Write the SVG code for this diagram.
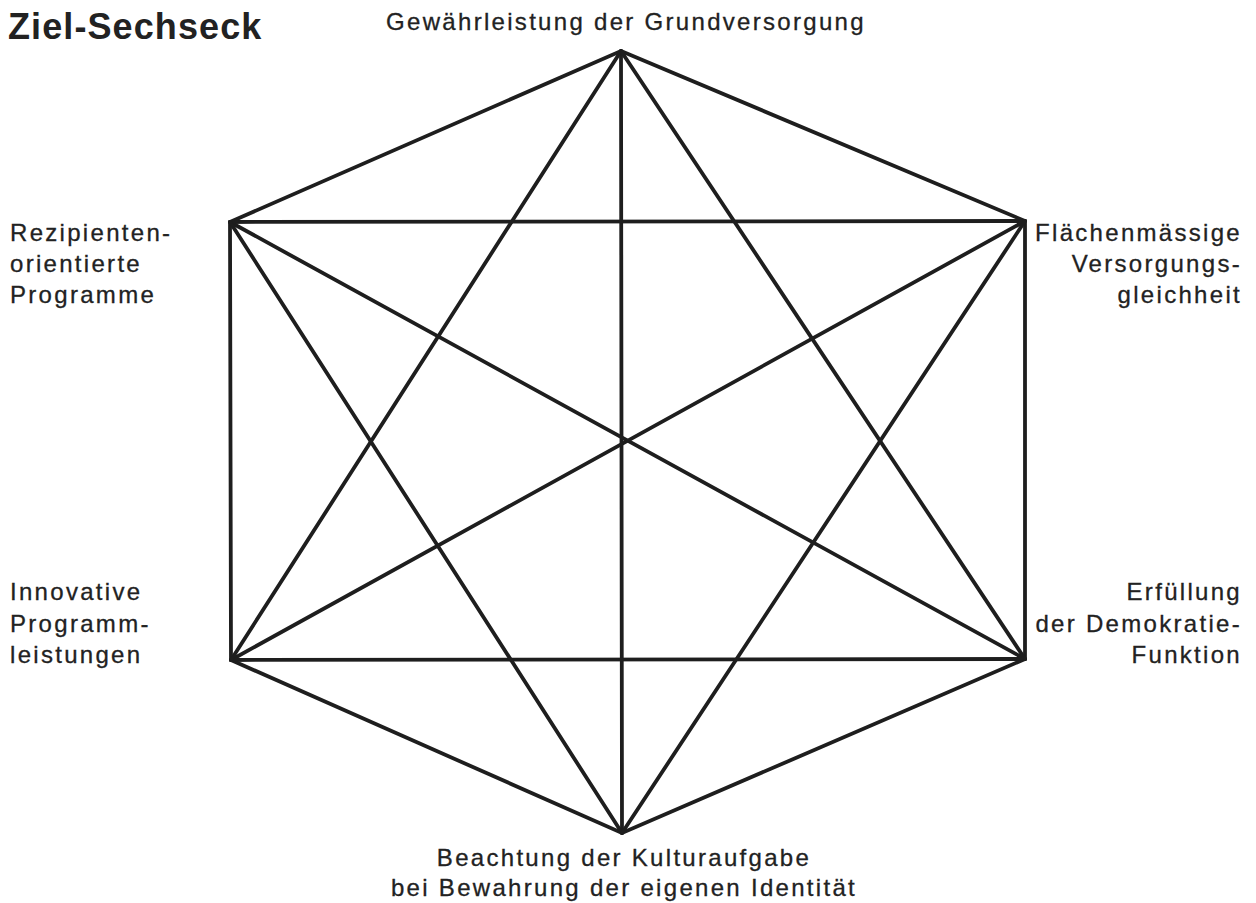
<svg xmlns="http://www.w3.org/2000/svg" width="1256" height="903" viewBox="0 0 1256 903">
<style>
.ln{stroke:#1e1e1e;stroke-width:3.8;stroke-linecap:round;fill:none}
.lb{font-family:"Liberation Sans",Arial,sans-serif;font-size:24px;fill:#222;stroke:#222;stroke-width:0.3;letter-spacing:2.3px}
.ttl{font-family:"Liberation Sans",Arial,sans-serif;font-size:36px;font-weight:bold;fill:#222;letter-spacing:1.1px}
.e{text-anchor:end}
.m{text-anchor:middle}
</style>
<rect width="1256" height="903" fill="#fff"/>
<text class="ttl" x="8" y="39">Ziel-Sechseck</text>
<g id="connectors">
<path class="ln" d="M621,51 L1025,221 L1025,659 L622,833 L231,660 L230,222 Z"/>
<line class="ln" x1="621" y1="51" x2="622" y2="833"/>
<line class="ln" x1="230" y1="222" x2="1025" y2="659"/>
<line class="ln" x1="1025" y1="221" x2="231" y2="660"/>
<line class="ln" x1="230" y1="222" x2="1025" y2="221"/>
<line class="ln" x1="231" y1="660" x2="1025" y2="659"/>
<line class="ln" x1="621" y1="51" x2="231" y2="660"/>
<line class="ln" x1="621" y1="51" x2="1025" y2="659"/>
<line class="ln" x1="622" y1="833" x2="230" y2="222"/>
<line class="ln" x1="622" y1="833" x2="1025" y2="221"/>
</g>
<g id="n-top"><text class="lb m" x="626" y="30">Gewährleistung der Grundversorgung</text></g>
<g id="n-ur"><text class="lb e" x="1242" y="241">Flächenmässige</text><text class="lb e" x="1242" y="272">Versorgungs-</text><text class="lb e" x="1242" y="303">gleichheit</text></g>
<g id="n-lr"><text class="lb e" x="1242" y="600">Erfüllung</text><text class="lb e" x="1242" y="632">der Demokratie-</text><text class="lb e" x="1242" y="663">Funktion</text></g>
<g id="n-bottom"><text class="lb m" x="624" y="866">Beachtung der Kulturaufgabe</text><text class="lb m" x="624" y="896">bei Bewahrung der eigenen Identität</text></g>
<g id="n-ll"><text class="lb" x="10" y="600">Innovative</text><text class="lb" x="10" y="632">Programm-</text><text class="lb" x="10" y="663">leistungen</text></g>
<g id="n-ul"><text class="lb" x="10" y="241">Rezipienten-</text><text class="lb" x="10" y="272">orientierte</text><text class="lb" x="10" y="303">Programme</text></g>
</svg>
